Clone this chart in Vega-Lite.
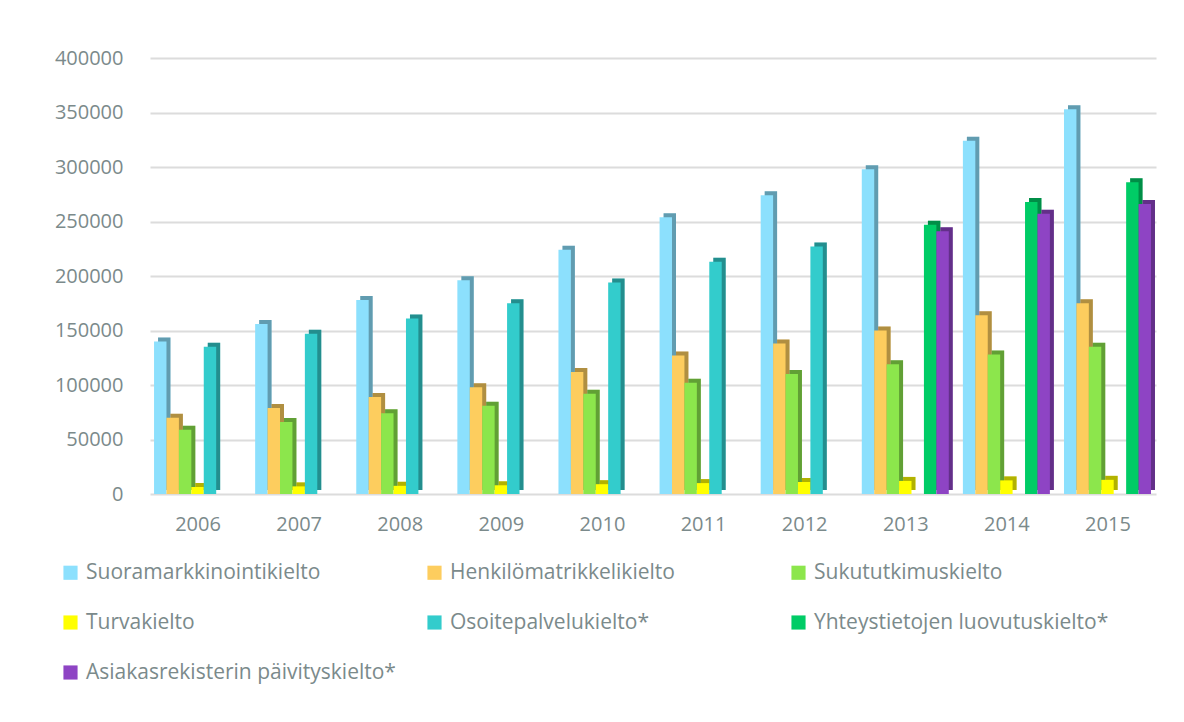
{
  "$schema": "https://vega.github.io/schema/vega-lite/v6.json",
  "width": 1006,
  "height": 436,
  "autosize": {"type": "none"},
  "padding": {"left": 150, "top": 58, "right": 28, "bottom": 228},
  "background": "white",
  "config": {
    "view": {"stroke": null},
    "font": "Open Sans",
    "axis": {"labelFont": "Open Sans", "labelColor": "#7b8a8b", "domain": false, "ticks": false, "title": null},
    "legend": {"labelFont": "Open Sans"}
  },
  "data": {
    "values": [
      {"year": "2006", "series": "Suoramarkkinointikielto", "value": 140000},
      {"year": "2007", "series": "Suoramarkkinointikielto", "value": 156000},
      {"year": "2008", "series": "Suoramarkkinointikielto", "value": 178000},
      {"year": "2009", "series": "Suoramarkkinointikielto", "value": 196000},
      {"year": "2010", "series": "Suoramarkkinointikielto", "value": 224000},
      {"year": "2011", "series": "Suoramarkkinointikielto", "value": 254000},
      {"year": "2012", "series": "Suoramarkkinointikielto", "value": 274000},
      {"year": "2013", "series": "Suoramarkkinointikielto", "value": 298000},
      {"year": "2014", "series": "Suoramarkkinointikielto", "value": 324000},
      {"year": "2015", "series": "Suoramarkkinointikielto", "value": 353000},
      {"year": "2006", "series": "Henkilömatrikkelikielto", "value": 70000},
      {"year": "2007", "series": "Henkilömatrikkelikielto", "value": 79000},
      {"year": "2008", "series": "Henkilömatrikkelikielto", "value": 89000},
      {"year": "2009", "series": "Henkilömatrikkelikielto", "value": 98000},
      {"year": "2010", "series": "Henkilömatrikkelikielto", "value": 112000},
      {"year": "2011", "series": "Henkilömatrikkelikielto", "value": 127000},
      {"year": "2012", "series": "Henkilömatrikkelikielto", "value": 138000},
      {"year": "2013", "series": "Henkilömatrikkelikielto", "value": 150000},
      {"year": "2014", "series": "Henkilömatrikkelikielto", "value": 164000},
      {"year": "2015", "series": "Henkilömatrikkelikielto", "value": 175000},
      {"year": "2006", "series": "Sukututkimuskielto", "value": 59000},
      {"year": "2007", "series": "Sukututkimuskielto", "value": 66000},
      {"year": "2008", "series": "Sukututkimuskielto", "value": 74000},
      {"year": "2009", "series": "Sukututkimuskielto", "value": 81000},
      {"year": "2010", "series": "Sukututkimuskielto", "value": 92000},
      {"year": "2011", "series": "Sukututkimuskielto", "value": 102000},
      {"year": "2012", "series": "Sukututkimuskielto", "value": 110000},
      {"year": "2013", "series": "Sukututkimuskielto", "value": 119000},
      {"year": "2014", "series": "Sukututkimuskielto", "value": 128000},
      {"year": "2015", "series": "Sukututkimuskielto", "value": 135000},
      {"year": "2006", "series": "Turvakielto", "value": 6500},
      {"year": "2007", "series": "Turvakielto", "value": 7000},
      {"year": "2008", "series": "Turvakielto", "value": 7500},
      {"year": "2009", "series": "Turvakielto", "value": 8000},
      {"year": "2010", "series": "Turvakielto", "value": 9000},
      {"year": "2011", "series": "Turvakielto", "value": 10000},
      {"year": "2012", "series": "Turvakielto", "value": 11000},
      {"year": "2013", "series": "Turvakielto", "value": 12000},
      {"year": "2014", "series": "Turvakielto", "value": 12500},
      {"year": "2015", "series": "Turvakielto", "value": 13000},
      {"year": "2006", "series": "Osoitepalvelukielto*", "value": 135000},
      {"year": "2007", "series": "Osoitepalvelukielto*", "value": 147000},
      {"year": "2008", "series": "Osoitepalvelukielto*", "value": 161000},
      {"year": "2009", "series": "Osoitepalvelukielto*", "value": 175000},
      {"year": "2010", "series": "Osoitepalvelukielto*", "value": 194000},
      {"year": "2011", "series": "Osoitepalvelukielto*", "value": 213000},
      {"year": "2012", "series": "Osoitepalvelukielto*", "value": 227000},
      {"year": "2013", "series": "Osoitepalvelukielto*", "value": 0},
      {"year": "2014", "series": "Osoitepalvelukielto*", "value": 0},
      {"year": "2015", "series": "Osoitepalvelukielto*", "value": 0},
      {"year": "2006", "series": "Yhteystietojen luovutuskielto*", "value": 0},
      {"year": "2007", "series": "Yhteystietojen luovutuskielto*", "value": 0},
      {"year": "2008", "series": "Yhteystietojen luovutuskielto*", "value": 0},
      {"year": "2009", "series": "Yhteystietojen luovutuskielto*", "value": 0},
      {"year": "2010", "series": "Yhteystietojen luovutuskielto*", "value": 0},
      {"year": "2011", "series": "Yhteystietojen luovutuskielto*", "value": 0},
      {"year": "2012", "series": "Yhteystietojen luovutuskielto*", "value": 0},
      {"year": "2013", "series": "Yhteystietojen luovutuskielto*", "value": 247000},
      {"year": "2014", "series": "Yhteystietojen luovutuskielto*", "value": 268000},
      {"year": "2015", "series": "Yhteystietojen luovutuskielto*", "value": 286000},
      {"year": "2006", "series": "Asiakasrekisterin päivityskielto*", "value": 0},
      {"year": "2007", "series": "Asiakasrekisterin päivityskielto*", "value": 0},
      {"year": "2008", "series": "Asiakasrekisterin päivityskielto*", "value": 0},
      {"year": "2009", "series": "Asiakasrekisterin päivityskielto*", "value": 0},
      {"year": "2010", "series": "Asiakasrekisterin päivityskielto*", "value": 0},
      {"year": "2011", "series": "Asiakasrekisterin päivityskielto*", "value": 0},
      {"year": "2012", "series": "Asiakasrekisterin päivityskielto*", "value": 0},
      {"year": "2013", "series": "Asiakasrekisterin päivityskielto*", "value": 241000},
      {"year": "2014", "series": "Asiakasrekisterin päivityskielto*", "value": 257000},
      {"year": "2015", "series": "Asiakasrekisterin päivityskielto*", "value": 266000}
    ]
  },
  "encoding": {
    "x": {
      "field": "year", "type": "nominal",
      "scale": {"paddingInner": 0.13, "paddingOuter": 0.04},
      "axis": {"labelAngle": 0, "labelFontSize": 20, "labelPadding": 20, "grid": false}
    },
    "y": {
      "field": "value", "type": "quantitative",
      "scale": {"domain": [0, 400000], "nice": false},
      "axis": {"values": [0, 50000, 100000, 150000, 200000, 250000, 300000, 350000, 400000], "format": "d", "labelFontSize": 20, "labelPadding": 27, "grid": true, "gridColor": "#dcdcdc", "gridWidth": 2}
    }
  },
  "layer": [
    {
      "mark": {"type": "bar", "yOffset": -4, "y2Offset": 0},
      "encoding": {
        "xOffset": {
          "field": "series", "type": "nominal",
          "sort": ["Suoramarkkinointikielto", "Henkilömatrikkelikielto", "Sukututkimuskielto", "Turvakielto", "Osoitepalvelukielto*", "Yhteystietojen luovutuskielto*", "Asiakasrekisterin päivityskielto*"],
          "scale": {"paddingInner": 0, "paddingOuter": 0, "range": [4, 91]}
        },
        "color": {
          "field": "series", "type": "nominal",
          "sort": ["Suoramarkkinointikielto", "Henkilömatrikkelikielto", "Sukututkimuskielto", "Turvakielto", "Osoitepalvelukielto*", "Yhteystietojen luovutuskielto*", "Asiakasrekisterin päivityskielto*"],
          "scale": {
            "domain": ["Suoramarkkinointikielto", "Henkilömatrikkelikielto", "Sukututkimuskielto", "Turvakielto", "Osoitepalvelukielto*", "Yhteystietojen luovutuskielto*", "Asiakasrekisterin päivityskielto*"],
            "range": ["#8ce0fd", "#fdcd5e", "#8ce64c", "#ffff00", "#33cccc", "#00cc66", "#8e44c4"]
          },
          "legend": {
            "orient": "none", "legendX": -90, "legendY": 504, "title": null,
            "direction": "horizontal", "columns": 3, "gridAlign": "all",
            "columnPadding": 28, "rowPadding": 28,
            "symbolType": "square", "symbolSize": 200, "symbolStrokeWidth": 0,
            "labelFontSize": 21, "labelColor": "#7b8a8b", "labelOffset": 5, "labelLimit": 400
          }
        }
      }
    },
    {
      "mark": {"type": "bar", "yOffset": -4, "y2Offset": 0, "color": "#000000", "opacity": 0.3},
      "encoding": {
        "xOffset": {
          "field": "series", "type": "nominal",
          "sort": ["Suoramarkkinointikielto", "Henkilömatrikkelikielto", "Sukututkimuskielto", "Turvakielto", "Osoitepalvelukielto*", "Yhteystietojen luovutuskielto*", "Asiakasrekisterin päivityskielto*"],
          "scale": {"paddingInner": 0, "paddingOuter": 0, "range": [4, 91]}
        }
      }
    },
    {
      "mark": {"type": "bar"},
      "encoding": {
        "xOffset": {
          "field": "series", "type": "nominal",
          "sort": ["Suoramarkkinointikielto", "Henkilömatrikkelikielto", "Sukututkimuskielto", "Turvakielto", "Osoitepalvelukielto*", "Yhteystietojen luovutuskielto*", "Asiakasrekisterin päivityskielto*"],
          "scale": {"paddingInner": 0, "paddingOuter": 0, "range": [0, 87]}
        },
        "color": {
          "field": "series", "type": "nominal",
          "sort": ["Suoramarkkinointikielto", "Henkilömatrikkelikielto", "Sukututkimuskielto", "Turvakielto", "Osoitepalvelukielto*", "Yhteystietojen luovutuskielto*", "Asiakasrekisterin päivityskielto*"],
          "legend": {
            "orient": "none", "legendX": -90, "legendY": 504, "title": null,
            "direction": "horizontal", "columns": 3, "gridAlign": "all",
            "columnPadding": 28, "rowPadding": 28,
            "symbolType": "square", "symbolSize": 200, "symbolStrokeWidth": 0,
            "labelFontSize": 21, "labelColor": "#7b8a8b", "labelOffset": 5, "labelLimit": 400
          }
        }
      }
    }
  ],
  "resolve": {"scale": {"xOffset": "independent"}}
}
